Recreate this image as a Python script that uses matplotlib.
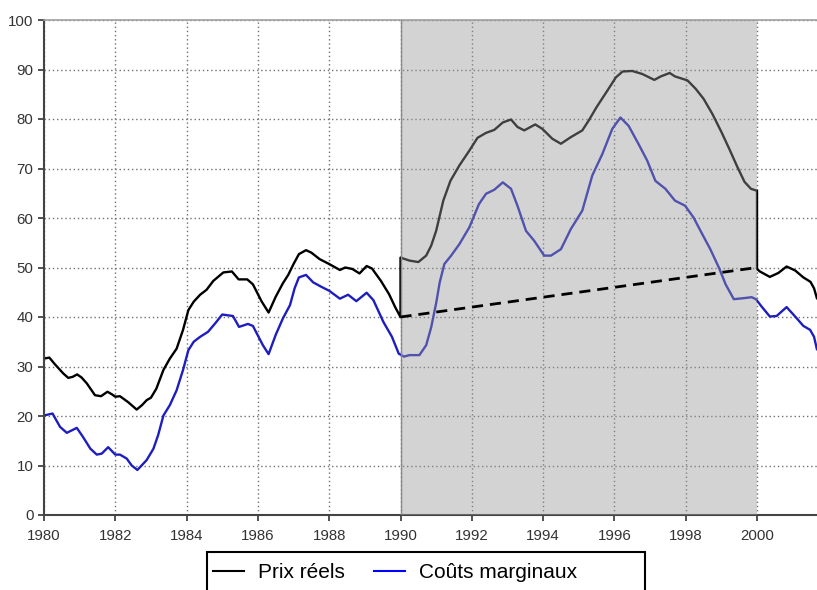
import matplotlib.pyplot as plt
from matplotlib.patches import Rectangle

plt.rcParams['font.family'] = ['Liberation Sans', 'DejaVu Sans']

# Prix réels (black line), with jumps at 1990 and 2000
years_prix = [1980.0, 1980.15, 1980.3, 1980.54, 1980.68, 1980.8, 1980.93, 1981.05, 1981.2, 1981.43,
              1981.6, 1981.78, 1981.9, 1982.0, 1982.13, 1982.36, 1982.6, 1982.75, 1982.88, 1983.0,
              1983.15, 1983.35, 1983.53, 1983.72, 1983.9, 1984.05, 1984.2, 1984.38, 1984.56, 1984.75,
              1985.03, 1985.27, 1985.46, 1985.7, 1985.86, 1986.1, 1986.3, 1986.5, 1986.7, 1986.85,
              1987.0, 1987.15, 1987.35, 1987.5, 1987.73, 1988.0, 1988.3, 1988.45, 1988.65, 1988.85,
              1989.05, 1989.2, 1989.45, 1989.68, 1989.85, 1990.0, 1990.0, 1990.25, 1990.5, 1990.72,
              1990.86, 1991.0, 1991.2, 1991.4, 1991.65, 1991.93, 1992.16, 1992.4, 1992.63, 1992.87,
              1993.1, 1993.28, 1993.47, 1993.78, 1993.98, 1994.26, 1994.5, 1994.77, 1995.1, 1995.28,
              1995.5, 1995.8, 1996.04, 1996.23, 1996.5, 1996.78, 1997.12, 1997.3, 1997.55, 1997.7,
              1998.05, 1998.28, 1998.5, 1998.75, 1999.0, 1999.22, 1999.45, 1999.65, 1999.83, 2000.0,
              2000.0, 2000.08, 2000.36, 2000.6, 2000.83, 2001.07, 2001.3, 2001.5, 2001.6, 2001.68]
prix = [31.6, 31.8, 30.5, 28.6, 27.7, 27.9, 28.4, 27.8, 26.6, 24.2,
        24.0, 24.9, 24.4, 23.9, 24.0, 22.8, 21.3, 22.2, 23.2, 23.7,
        25.5, 29.3, 31.6, 33.6, 37.4, 41.4, 43.1, 44.5, 45.5, 47.3,
        49.0, 49.2, 47.6, 47.6, 46.6, 43.2, 40.9, 44.1, 46.8, 48.5,
        50.7, 52.7, 53.5, 53.0, 51.7, 50.7, 49.5, 50.0, 49.7, 48.8,
        50.3, 49.8, 47.3, 44.6, 42.0, 40.0, 52.0, 51.4, 51.1, 52.4,
        54.4, 57.4, 63.5, 67.5, 70.6, 73.6, 76.2, 77.2, 77.8, 79.3,
        79.9, 78.4, 77.7, 78.9, 78.0, 76.0, 75.0, 76.3, 77.7, 79.7,
        82.4, 85.7, 88.4, 89.6, 89.7, 89.1, 87.9, 88.6, 89.3, 88.6,
        87.8, 86.1, 84.1, 81.0, 77.4, 74.0, 70.3, 67.3, 65.9, 65.5,
        49.7, 49.2, 48.1, 48.9, 50.2, 49.4, 48.0, 47.1, 45.8, 43.8]

# Coûts marginaux (blue line)
years_couts = [1980.0, 1980.24, 1980.45, 1980.64, 1980.92, 1981.1, 1981.3, 1981.48, 1981.62, 1981.8,
               1982.0, 1982.13, 1982.32, 1982.46, 1982.62, 1982.88, 1983.07, 1983.2, 1983.35, 1983.53,
               1983.72, 1983.9, 1984.05, 1984.2, 1984.38, 1984.6, 1984.8, 1985.0, 1985.3, 1985.47,
               1985.72, 1985.86, 1986.14, 1986.3, 1986.5, 1986.7, 1986.9, 1987.03, 1987.15, 1987.35,
               1987.55, 1987.78, 1988.0, 1988.3, 1988.53, 1988.76, 1989.05, 1989.24, 1989.52, 1989.76,
               1989.95, 1990.1, 1990.25, 1990.53, 1990.72, 1990.86, 1991.0, 1991.1, 1991.23, 1991.42,
               1991.65, 1991.93, 1992.2, 1992.4, 1992.63, 1992.87, 1993.1, 1993.28, 1993.52, 1993.75,
               1994.03, 1994.22, 1994.5, 1994.78, 1995.1, 1995.38, 1995.66, 1995.94, 1996.17, 1996.4,
               1996.68, 1996.92, 1997.15, 1997.43, 1997.7, 1997.98, 1998.22, 1998.46, 1998.69, 1998.93,
               1999.12, 1999.35, 1999.62, 1999.85, 1999.97, 2000.13, 2000.36, 2000.55, 2000.83, 2001.07,
               2001.3, 2001.49, 2001.6, 2001.68]
couts = [20.1, 20.5, 17.8, 16.6, 17.6, 15.7, 13.4, 12.2, 12.4, 13.7,
         12.2, 12.2, 11.4, 10.0, 9.1, 11.1, 13.4, 16.1, 20.1, 22.2,
         25.2, 29.3, 33.3, 35.0, 36.0, 37.0, 38.7, 40.5, 40.2, 38.0,
         38.6, 38.2, 34.3, 32.5, 36.4, 39.7, 42.4, 45.8, 48.0, 48.5,
         47.0, 46.1, 45.3, 43.7, 44.5, 43.2, 44.9, 43.4, 39.0, 36.0,
         32.6, 32.0, 32.3, 32.3, 34.3, 37.9, 42.8, 47.0, 50.7, 52.4,
         54.7, 58.1, 62.8, 64.9, 65.7, 67.2, 65.9, 62.5, 57.4, 55.4,
         52.4, 52.4, 53.7, 57.8, 61.5, 68.6, 72.9, 78.0, 80.3, 78.6,
         74.9, 71.6, 67.5, 65.9, 63.5, 62.5, 60.1, 56.8, 53.7, 50.0,
         46.6, 43.6, 43.8, 44.0, 43.6, 42.1, 40.1, 40.2, 42.0, 40.1,
         38.2, 37.4, 36.0, 33.5]

# dashed trend line across the shaded period
trend_years = [1990, 2000]
trend_values = [40, 50]

x_ticks = list(range(1980, 2001, 2))
y_ticks = list(range(0, 101, 10))

fig = plt.figure(figsize=(8.17, 5.90), dpi=100)
ax = fig.add_axes([44 / 817, 1 - 515 / 590, 1 - 44 / 817, (515 - 20) / 590])

ax.plot(years_prix, prix, color='black', lw=1.7, zorder=2, label='Prix réels')
ax.plot(years_couts, couts, color='#1e1ebe', lw=1.7, zorder=2, label='Coûts marginaux')

# grey overlay on top of the curves for 1990-2000
ax.axvspan(1990, 2000, facecolor='#989898', alpha=0.42, lw=0, zorder=3)
ax.axvline(1990, color='#8a8a8a', lw=1.0, zorder=3.5)

ax.plot(trend_years, trend_values, color='black', lw=2.0, ls=(0, (4, 2.5)), zorder=4)

ax.set_xlim(1980, 1980 + 773 / 35.65)
ax.set_ylim(0, 100)
ax.set_xticks(x_ticks)
ax.set_yticks(y_ticks)
ax.grid(True, color='#707070', ls=(0, (1, 2)), lw=1.0, zorder=1)
ax.set_axisbelow(True)

ax.tick_params(axis='both', labelsize=10.8, colors='#333333', length=4, width=1.2, direction='out')
ax.tick_params(axis='x', pad=6)
ax.spines['left'].set_color('#444444')
ax.spines['left'].set_linewidth(1.5)
ax.spines['bottom'].set_color('#444444')
ax.spines['bottom'].set_linewidth(1.5)
ax.spines['top'].set_color('#a0a0a0')
ax.spines['top'].set_linewidth(1.2)
ax.spines['right'].set_visible(False)

# legend box, cut off by the bottom edge like the original
fig.patches.append(Rectangle((207 / 817, -0.05), (645 - 207) / 817, (590 - 552) / 590 + 0.05,
                             transform=fig.transFigure, fill=False, edgecolor='black', lw=1.5))
ax.legend(loc='center left', bbox_to_anchor=(213 / 817, 1 - 573 / 590),
          bbox_transform=fig.transFigure, ncol=2, frameon=False, fontsize=15,
          handlelength=1.5, handletextpad=0.65, columnspacing=1.4, borderpad=0.0,
          borderaxespad=0.0)
leg = ax.get_legend()
leg.legend_handles[1].set_color('#0000ff')
for h in leg.legend_handles:
    h.set_linewidth(1.5)

fig.savefig('out.png', dpi=100)
